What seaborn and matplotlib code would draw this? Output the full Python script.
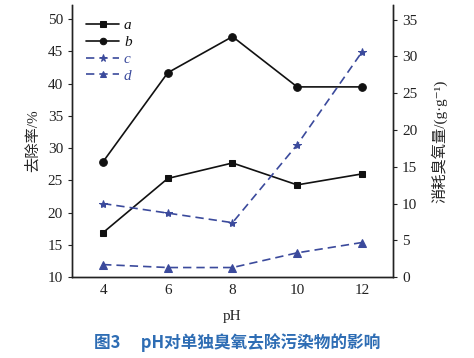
import pandas as pd
import seaborn as sns
import matplotlib.pyplot as plt

# Data
ph = [4, 6, 8, 10, 12]
removal_a = [16.9, 25.3, 27.7, 24.3, 26.0]
removal_b = [27.9, 41.7, 47.3, 39.5, 39.5]
ozone_c = [10.0, 8.7, 7.4, 18.0, 30.6]
ozone_d = [1.7, 1.3, 1.3, 3.3, 4.7]
left_ticks = [10, 15, 20, 25, 30, 35, 40, 45, 50]
right_ticks = [0, 5, 10, 15, 20, 25, 30, 35]

sns.set_style('ticks')
plt.rcParams['font.family'] = ['Liberation Serif', 'Noto Sans CJK SC', 'DejaVu Sans']
plt.rcParams['axes.unicode_minus'] = False

df = pd.DataFrame({'pH': ph, 'a': removal_a, 'b': removal_b, 'c': ozone_c, 'd': ozone_d})

fig = plt.figure(figsize=(4.74, 3.58), dpi=100)
ax = fig.add_axes([0.152, 0.226, 0.677, 0.76])
ax2 = ax.twinx()

black = '#111111'
blue = '#3b4a9c'

sns.lineplot(data=df, x='pH', y='a', ax=ax, color=black, marker='s', markersize=5,
             markeredgecolor=black, linewidth=1.2, label='a', legend=False)
sns.lineplot(data=df, x='pH', y='b', ax=ax, color=black, marker='o', markersize=5.5,
             markeredgecolor=black, linewidth=1.2, label='b', legend=False)
sns.lineplot(data=df, x='pH', y='c', ax=ax2, color=blue, marker='*', markersize=6,
             markeredgecolor=blue, linewidth=1.2, dashes=(5, 3), label='c', legend=False)
sns.lineplot(data=df, x='pH', y='d', ax=ax2, color=blue, marker='^', markersize=5.5,
             markeredgecolor=blue, linewidth=1.2, dashes=(5, 3), label='d', legend=False)

ax.set_xlim(3.04, 12.96)
ax.set_ylim(10, 52.2)
ax2.set_ylim(0, 37)
ax.set_xticks(ph)
ax.set_yticks(left_ticks)
ax2.set_yticks(right_ticks)

for a in (ax, ax2):
    a.spines['top'].set_visible(False)
    for s in a.spines.values():
        s.set_linewidth(1.0)
        s.set_color('#222222')
    a.tick_params(labelsize=11, length=3, width=0.8, colors='#222222')
ax.tick_params(axis='x', length=0, pad=5)
ax.set_xlabel('pH', fontsize=11, labelpad=9)
ax.set_ylabel('去除率/%', fontsize=11, labelpad=6)
ax2.set_ylabel('消耗臭氧量/(g·g⁻¹)', fontsize=11, labelpad=10)

h1, l1 = ax.get_legend_handles_labels()
h2, l2 = ax2.get_legend_handles_labels()
leg = ax.legend(h1 + h2, l1 + l2, loc='upper left', bbox_to_anchor=(0.0, 1.0),
                frameon=False, handlelength=2.2, handletextpad=0.3, labelspacing=0.2,
                markerscale=0.85,
                prop={'family': 'Liberation Serif', 'style': 'italic', 'size': 11})
for t, c in zip(leg.get_texts(), [black, black, blue, blue]):
    t.set_color(c)

fig.text(0.5, 0.042, '图3\u2003 pH对单独臭氧去除污染物的影响', ha='center', va='center',
         fontsize=12, fontweight='bold', color='#2e6db4',
         family=['Noto Sans CJK SC', 'DejaVu Sans'])

fig.savefig('out.png', dpi=100)
